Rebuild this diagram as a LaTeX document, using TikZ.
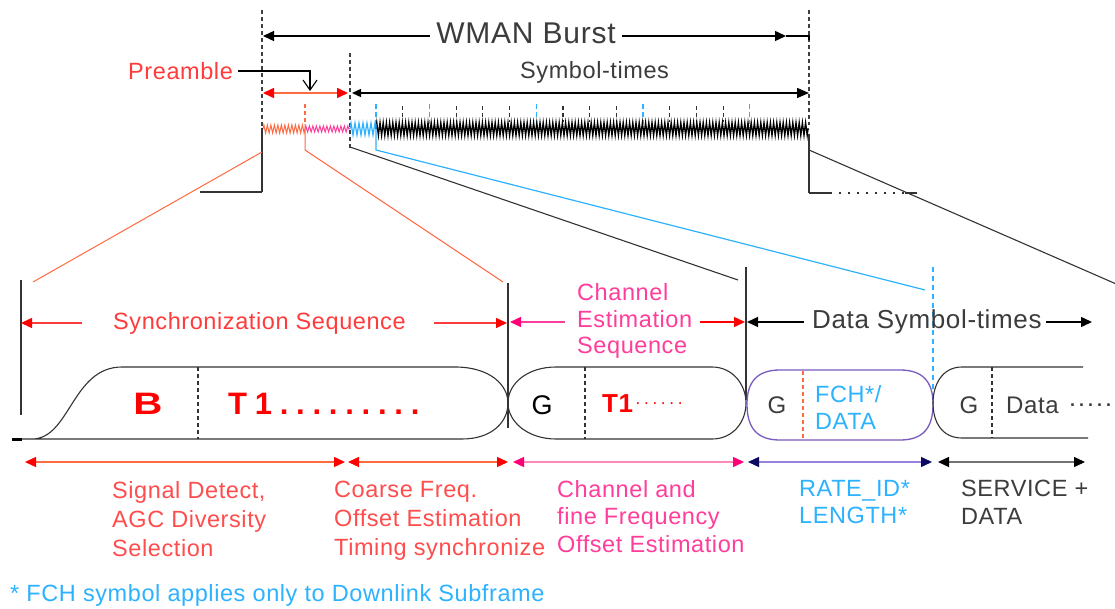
\documentclass[tikz,border=0pt]{standalone}
\usepackage{fontspec}
\setmainfont[LetterSpace=2.5]{Liberation Sans}
\newfontfamily\spacedfont[LetterSpace=25]{Liberation Sans}
\newfontfamily\dotfont[LetterSpace=22]{Liberation Sans}
\usetikzlibrary{arrows.meta,decorations.pathmorphing}
\definecolor{cRed}{HTML}{FF3B3B}
\definecolor{cRedB}{HTML}{FF4D4D}
\definecolor{cOrange}{HTML}{FF6A40}
\definecolor{cMag}{HTML}{FF3D9A}
\definecolor{cMagL}{HTML}{FF88BB}
\definecolor{cMagT}{HTML}{FF0077}
\definecolor{cBlue}{HTML}{2DB2FF}
\definecolor{cPurp}{HTML}{7A5CC0}
\definecolor{cPurpL}{HTML}{9A80DD}
\definecolor{cNavy}{HTML}{0A0A60}
\definecolor{cGray}{HTML}{3C3C3C}
\definecolor{cLine}{HTML}{333333}
\begin{document}
\begin{tikzpicture}[x=1pt,y=-1pt,
  every node/.style={inner sep=0pt},
  lbl/.style={font=\fontsize{23.5}{29}\selectfont, anchor=north west, align=left},
  ln/.style={line width=1.1pt, cLine},
  dsh/.style={dash pattern=on 4pt off 3pt, line width=1.1pt},
  tipA/.style={line width=1.4pt, {Triangle[length=11pt,width=10pt,color=#1]}-{Triangle[length=11pt,width=10pt,color=#1]}},
  tipL/.style={line width=1.4pt, {Triangle[length=11pt,width=10pt,color=#1]}-},
  tipR/.style={line width=1.4pt, -{Triangle[length=11pt,width=10pt,color=#1]}},
  wave/.style={decorate, line width=1pt},
]
\clip (0,0) rectangle (1115,609);
\fill[white] (0,0) rectangle (1115,609);

% ---------------- top part ----------------
\coordinate (dA1) at (262,10);  \coordinate (dA2) at (262,128);
\coordinate (dB1) at (350,53);  \coordinate (dB2) at (350,148);
\coordinate (dC1) at (809,10);  \coordinate (dC2) at (809,125);
\draw[dsh, black!75] (dA1) -- (dA2);
\draw[dsh, black!75] (dB1) -- (dB2);
\draw[dsh, black!75] (dC1) -- (dC2);

\node[font=\fontsize{30}{36}\selectfont, text=cGray] (wman) at (526,33) {WMAN Burst};
\coordinate (wL) at (263,36); \coordinate (wR) at (786,36); \coordinate (wE) at (809,36);
\draw[ln, black, tipR=black] ([xshift=-6pt]wman.west |- wL) -- (wL);
\draw[ln, black, tipR=black] ([xshift=6pt]wman.east |- wR) -- (wR);
\draw[ln, black] (wR) -- (wE) -- ++(0,4);

\node[lbl, anchor=west, text=cRed] (pre) at (128,71) {Preamble};
\coordinate (pk) at (310,71); \coordinate (pt) at (310,91);
\draw[ln, black, -{Straight Barb[length=10pt,width=14pt]}] ([xshift=5pt]pre.east) -- (pk) -- (pt);
\coordinate (pL) at (263,93); \coordinate (pR) at (348,93);
\draw[cOrange, tipA=red, line width=1.6pt] (pL) -- (pR);

\node[lbl, anchor=west, text=cGray] (sym) at (520,72) {Symbol-times};
\coordinate (sL) at (352,93); \coordinate (sR) at (809,93);
\draw[black, line width=1.4pt, {Triangle[length=9pt,width=8pt]}-{Triangle[length=12pt,width=10pt]}] (sL) -- (sR);

% ticks
\foreach \k in {1,3,4,5,7,8,9,11,12,13}
  \draw[black!80, line width=1.2pt, dash pattern=on 4pt off 3pt] (376+26.7*\k,106) -- (376+26.7*\k,122);
\foreach \k in {0,2,6,10,14}
  \draw[cBlue, line width=1.2pt, dash pattern=on 5pt off 3pt] (376+26.7*\k,104) -- (376+26.7*\k,124);
\draw[cOrange, line width=1.2pt, dash pattern=on 4pt off 3pt] (305,104) -- (305,124);

% waveform
\draw[wave, cOrange, decoration={zigzag, segment length=3.5pt, amplitude=4pt}] (263,129) -- (305,129);
\draw[wave, cMag, decoration={zigzag, segment length=3.5pt, amplitude=3pt}] (305,129) -- (350,129);
\draw[wave, cBlue, line width=1.2pt, decoration={zigzag, segment length=4pt, amplitude=6pt}] (350,129) -- (376,129);
\draw[wave, black, line width=1.3pt, decoration={zigzag, segment length=3.2pt, amplitude=6.5pt}] (376,129) -- (809,129);

% ramps
\draw[ln] (262,128) -- (262,192);
\draw[line width=2pt, cLine] (262,192) -- (200,192);
\draw[ln] (809,134) -- (809,193);
\draw[line width=2pt, cLine] (809,193) -- (830,193);
\draw[line width=1.2pt, cLine, dash pattern=on 2pt off 7pt] (830,193) -- (905,193);
\draw[line width=2pt, cLine] (905,193) -- (917,193);
\draw[ln] (809,150) -- (1130,290);

% projection lines
\draw[cOrange, line width=1pt] (262,152) -- (33,282);
\draw[cOrange, line width=1pt] (305,124) -- (305,150) -- (503,282);
\draw[ln] (350,147) -- (738,280);
\draw[cBlue, line width=1.2pt] (376,124) -- (376,150) -- (925,290);

% ---------------- lower part ----------------
\draw[ln, line width=1.4pt] (21,280) -- (21,415);
\draw[ln] (508,283) -- (508,428);
\draw[ln] (746,267) -- (746,400);
\draw[cBlue, line width=1.2pt, dash pattern=on 5pt off 4pt] (933,267) -- (933,397);

\node[lbl, anchor=west, text=cRed] (sync) at (113,323) {Synchronization Sequence};
\draw[cRed, tipR=red] ([xshift=-31pt]sync.west) -- (21,323);
\draw[cRed, tipR=red] ([xshift=28pt]sync.east) -- (507,323);

\node[font=\fontsize{23.5}{26.5}\selectfont, anchor=west, align=left, text=cMag] (chan) at (577,321) {Channel\\Estimation\\Sequence};
\draw[cMag, tipR=cMagT] (565,322) -- (510,322);
\draw[red, tipR=red] (700,322) -- (745,322);

\node[font=\fontsize{26}{30}\selectfont, anchor=west, text=cGray] (dst) at (812,322) {Data Symbol-times};
\draw[black, tipR=black] ([xshift=-8pt]dst.west) -- (747,322);
\draw[black, tipR=black] ([xshift=4pt]dst.east) -- (1092,322);

% sync shape
\draw[ln] (32,439) .. controls (70,439) and (72,367) .. (122,367) -- (455,367)
  .. controls (490,367) and (508,385) .. (508,403) .. controls (508,422) and (492,439) .. (462,439) -- (12,439);
\draw[line width=3pt, black] (12,439) -- (22,439);
\draw[dsh, cLine] (198,367) -- (198,439);
\node[font=\fontsize{31}{31}\selectfont\bfseries, text=red] (B) at (148,404) {\scalebox{1.3}[1]{B}};
\node[anchor=west, font=\spacedfont\fontsize{31}{31}\selectfont\bfseries, text=red] (T1a) at (228,404) {T1.........};

% channel estimation shape
\draw[ln] (508,403) .. controls (508,383) and (528,367) .. (556,367) -- (712,367)
  .. controls (733,367) and (746,385) .. (746,403) .. controls (746,422) and (733,439) .. (712,439)
  -- (556,439) .. controls (528,439) and (508,422) .. (508,403);
\draw[dsh, cLine] (585,367) -- (585,439);
\node[font=\fontsize{27}{27}\selectfont, text=black] (G1) at (542,405) {G};
\node[anchor=west, font=\fontsize{26}{26}\selectfont\bfseries, text=red] (T1b) at (602,404) {T1};
\node[anchor=west, font=\dotfont\fontsize{17}{17}\selectfont, text=red] (dots1) at ([xshift=2pt]T1b.east) {......};

% FCH shape
\draw[cPurp, line width=1.3pt] (747,404) .. controls (747,382) and (757,370) .. (780,370) -- (900,370)
  .. controls (923,370) and (933,382) .. (933,404) .. controls (933,428) and (923,440) .. (900,440)
  -- (780,440) .. controls (757,440) and (747,428) .. (747,404);
\draw[cOrange, line width=1.1pt, dash pattern=on 4pt off 3pt] (803,371) -- (803,439);
\node[font=\fontsize{24}{24}\selectfont, text=cGray] (G2) at (777,405) {G};
\node[font=\fontsize{23.5}{27}\selectfont, anchor=west, align=left, text=cBlue] (fch) at (815,407) {FCH*/\\DATA};

% data shape
\draw[ln] (1083,367) -- (962,367) .. controls (942,367) and (933,385) .. (933,403)
  .. controls (933,422) and (942,438) .. (962,438) -- (1088,438);
\draw[dsh, cLine] (992,367) -- (992,438);
\node[font=\fontsize{24}{24}\selectfont, text=cGray] (G3) at (969,405) {G};
\node[anchor=west, font=\fontsize{24}{24}\selectfont, text=cGray] (data) at (1006,405) {Data};
\node[anchor=west, font=\dotfont\fontsize{18}{18}\selectfont\bfseries, text=cGray] (dots2) at (1070,405) {.....};

% bottom dimension arrows
\draw[cOrange, tipA=red] (25,462) -- (345,462);
\draw[cOrange, tipA=red] (348,462) -- (508,462);
\draw[cMagL, tipA=cMagT] (513,462) -- (744,462);
\draw[cPurpL, tipA=cNavy] (748,462) -- (932,462);
\draw[black!55, tipA=black] (938,462) -- (1085,462);

% bottom labels
\node[lbl, text=cRedB] (sd) at (112,481) {Signal Detect,\\AGC Diversity\\Selection};
\node[lbl, text=cRedB] (cf) at (334,481) {Coarse Freq.\\Offset Estimation\\Timing synchronize};
\node[lbl, font=\fontsize{23.5}{27.5}\selectfont, text=cMag] (cfo) at (557,480) {Channel and\\fine Frequency\\Offset Estimation};
\node[lbl, font=\fontsize{23.5}{27.5}\selectfont, text=cBlue] (rate) at (799,480) {RATE\_ID*\\LENGTH*};
\node[lbl, font=\fontsize{23.5}{27.5}\selectfont, text=cGray] (serv) at (961,480) {SERVICE +\\DATA};

\node[lbl, anchor=west, text=cBlue] (foot) at (10,595) {* FCH symbol applies only to Downlink Subframe};
\end{tikzpicture}
\end{document}
